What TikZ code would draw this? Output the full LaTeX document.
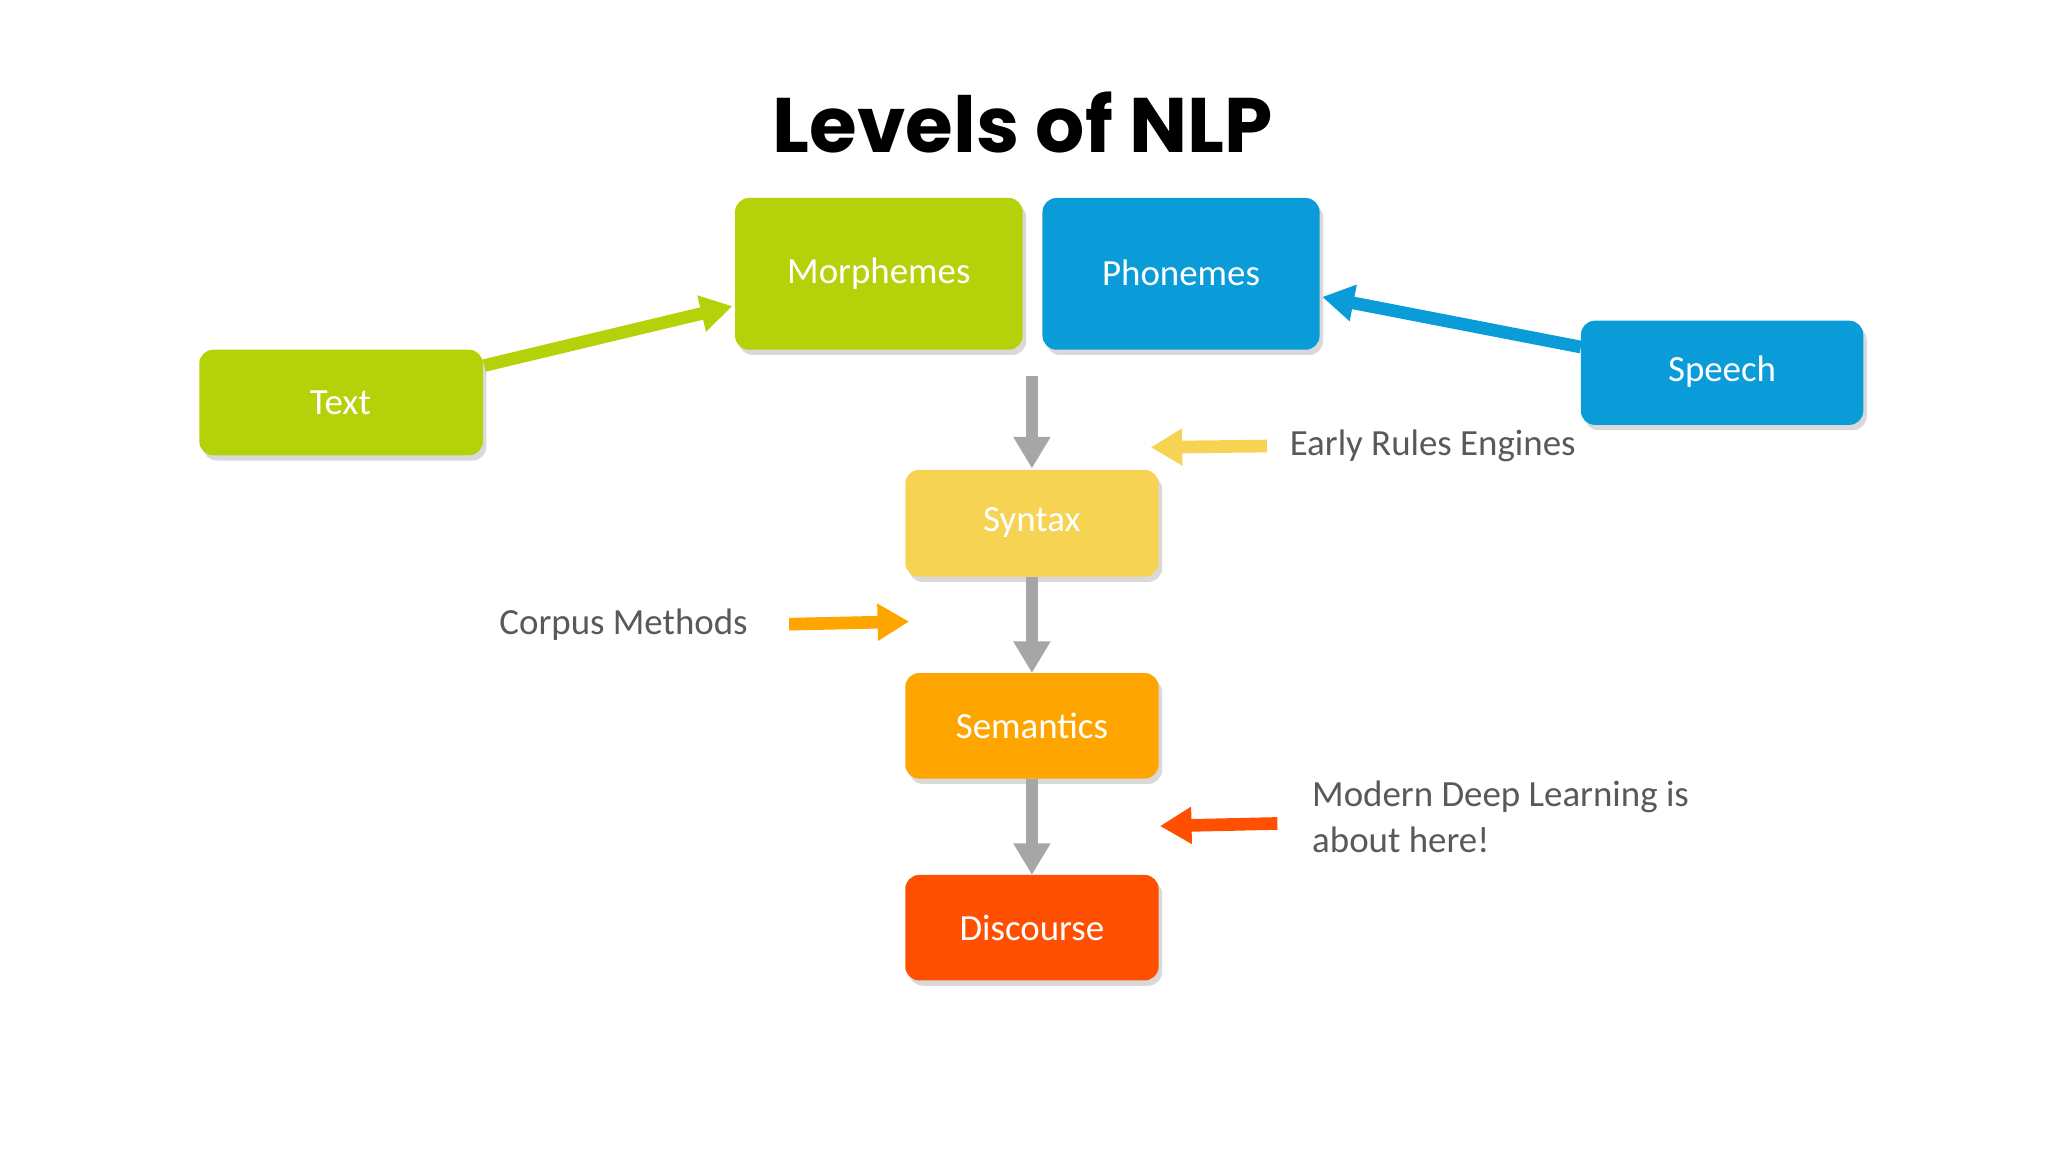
\documentclass[tikz,border=0pt]{standalone}
\usepackage{fontspec}
\setmainfont{Carlito}
\newfontfamily\titlefont{Poppins}
\usetikzlibrary{arrows.meta,shadows}
\definecolor{cgreen}{HTML}{B5D10A}
\definecolor{cblue}{HTML}{0A9CD9}
\definecolor{cyellow}{HTML}{F7D354}
\definecolor{corange}{HTML}{FFA500}
\definecolor{cred}{HTML}{FF4F00}
\definecolor{cgray}{HTML}{A6A6A6}
\definecolor{ctext}{HTML}{595959}
\begin{document}
\begin{tikzpicture}[x=0.013196cm,y=-0.013196cm,
  box/.style={rounded corners=4pt,draw=none,text=white,font=\fontsize{10.5}{12}\selectfont,
    drop shadow={shadow xshift=1pt,shadow yshift=-1.5pt,opacity=0.3}},
  arr/.style={line width=3.6pt,-{Triangle[length=9pt,width=10pt]}},
  lbl/.style={text=ctext,font=\fontsize{10.5}{13}\selectfont}]
\path[use as bounding box] (0,0) rectangle (1552,873);
\node[font=\titlefont\bfseries\fontsize{22}{26}\selectfont] (title) at (775,93) {Levels of NLP};
\path[box,fill=cgreen] (557,150) rectangle (775,265);
\node[text=white,font=\fontsize{10.5}{12}\selectfont] (morph) at (666,207) {Morphemes};
\path[box,fill=cblue] (790,150) rectangle (1000,265);
\node[text=white,font=\fontsize{10.5}{12}\selectfont] (phon) at (895,207) {Phonemes};
\path[box,fill=cgreen] (151,265) rectangle (366,345);
\node[text=white,font=\fontsize{10.5}{12}\selectfont] (text) at (258,305) {Text};
\path[box,fill=cblue] (1198,243) rectangle (1412,322);
\node[text=white,font=\fontsize{10.5}{12}\selectfont] (speech) at (1305,282) {Speech};
\path[box,fill=cyellow] (686,356) rectangle (878,437);
\node[text=white,font=\fontsize{10.5}{12}\selectfont] (syn) at (782,396) {Syntax};
\path[box,fill=corange] (686,510) rectangle (878,590);
\node[text=white,font=\fontsize{10.5}{12}\selectfont] (sem) at (782,550) {Semantics};
\path[box,fill=cred] (686,663) rectangle (878,743);
\node[text=white,font=\fontsize{10.5}{12}\selectfont] (dis) at (782,703) {Discourse};
\coordinate (g1) at (782,285); \coordinate (g2) at (782,355);
\coordinate (g3) at (782,437); \coordinate (g4) at (782,510);
\coordinate (g5) at (782,590); \coordinate (g6) at (782,663);
\draw[arr,cgray] (g1) -- (g2);
\draw[arr,cgray] (g3) -- (g4);
\draw[arr,cgray] (g5) -- (g6);
\coordinate (ta) at (367,277); \coordinate (tb) at (555,232);
\draw[arr,cgreen] (ta) -- (tb);
\coordinate (sa) at (1198,263); \coordinate (sb) at (1002,225);
\draw[arr,cblue] (sa) -- (sb);
\node[lbl,anchor=west] (early) at (968,338) {Early Rules Engines};
\coordinate (ea) at (960,338); \coordinate (eb) at (872,339);
\draw[arr,cyellow] (ea) -- (eb);
\node[lbl,anchor=east] (corpus) at (576,473) {Corpus Methods};
\coordinate (ca) at (598,473); \coordinate (cb) at (689,471);
\draw[arr,corange] (ca) -- (cb);
\node[lbl,anchor=west,align=left] (modern) at (985,619) {Modern Deep Learning is\\about here!};
\coordinate (ma) at (968,624); \coordinate (mb) at (879,626);
\draw[arr,cred] (ma) -- (mb);
\end{tikzpicture}
\end{document}
